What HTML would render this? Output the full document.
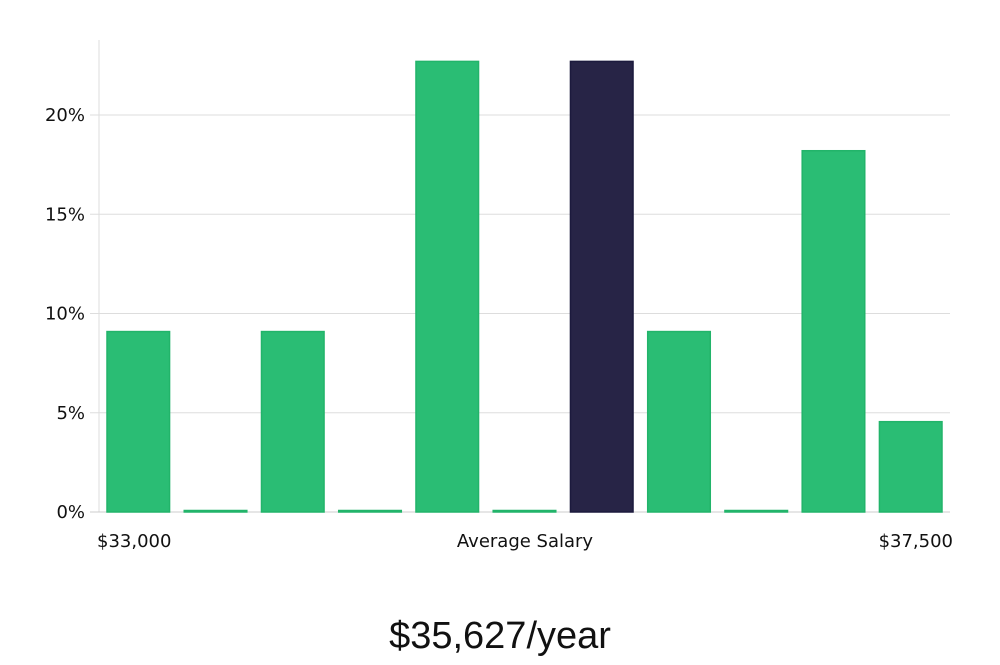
<!DOCTYPE html>
<html><head><meta charset="utf-8"><style>
body{margin:0;background:#fff;width:1000px;height:660px;overflow:hidden}
svg text{font-family:"DejaVu Sans","Liberation Sans",sans-serif;fill:#111}
</style></head><body>
<svg id="chart" width="1000" height="660" xmlns="http://www.w3.org/2000/svg">
<g id="grid"></g><g id="bars"></g><g id="labels"></g>
<text x="97" y="547" font-size="18">$33,000</text>
<text x="525" y="547" font-size="18" text-anchor="middle">Average Salary</text>
<text x="953" y="547" font-size="18" text-anchor="end">$37,500</text>
<text x="500" y="648" font-size="38" text-anchor="middle" style="font-family:'Liberation Sans Narrow','Liberation Sans',sans-serif;font-weight:300">$35,627/year</text>
</svg>
<script>
const categories=["b1","b2","b3","b4","b5","b6","b7","b8","b9","b10","b11"];
const values=[9.09,0,9.09,0,22.7,0,22.7,9.09,0,18.2,4.55];
const highlight=[false,false,false,false,false,false,true,false,false,false,false];
const yTicks=[0,5,10,15,20];
const yTickLabels=["0%","5%","10%","15%","20%"];
const NS="http://www.w3.org/2000/svg";
const x0=99,x1=950,yZero=512,pxPer=19.85;
const y=v=>yZero-v*pxPer;
const step=(942-107)/(categories.length-0.19);
const bw=step*0.81;
const xb=i=>107+i*step;
function mk(t,a,p){const e=document.createElementNS(NS,t);for(const k in a)e.setAttribute(k,a[k]);p.appendChild(e);return e;}
const grid=document.getElementById('grid'),bars=document.getElementById('bars'),labels=document.getElementById('labels');
const ax=mk('line',{x1:x0,x2:x0,y1:40,y2:yZero,stroke:'#ddd'},grid);


yTicks.forEach((t,i)=>{
 const g=mk('line',{x1:t===0?90:90,x2:x1,y1:y(t),y2:y(t),stroke:t===0?'#ccc':'#ddd'},grid);
 
 
 const l=mk('text',{x:85,y:y(t)+6,'font-size':18,'text-anchor':'end'},labels);
 l.textContent=yTickLabels[i];
 
 
});
values.forEach((v,i)=>{
 const h=Math.max(v*pxPer,1.5);
 const c=highlight[i]?'#272446':'#2abd74';
 const r=mk('rect',{x:xb(i),y:yZero-h,width:bw,height:h,fill:c,stroke:highlight[i]?'#1c1a3d':'#22b46a','stroke-width':1.5},bars);
 
 
});
</script>
</body></html>
